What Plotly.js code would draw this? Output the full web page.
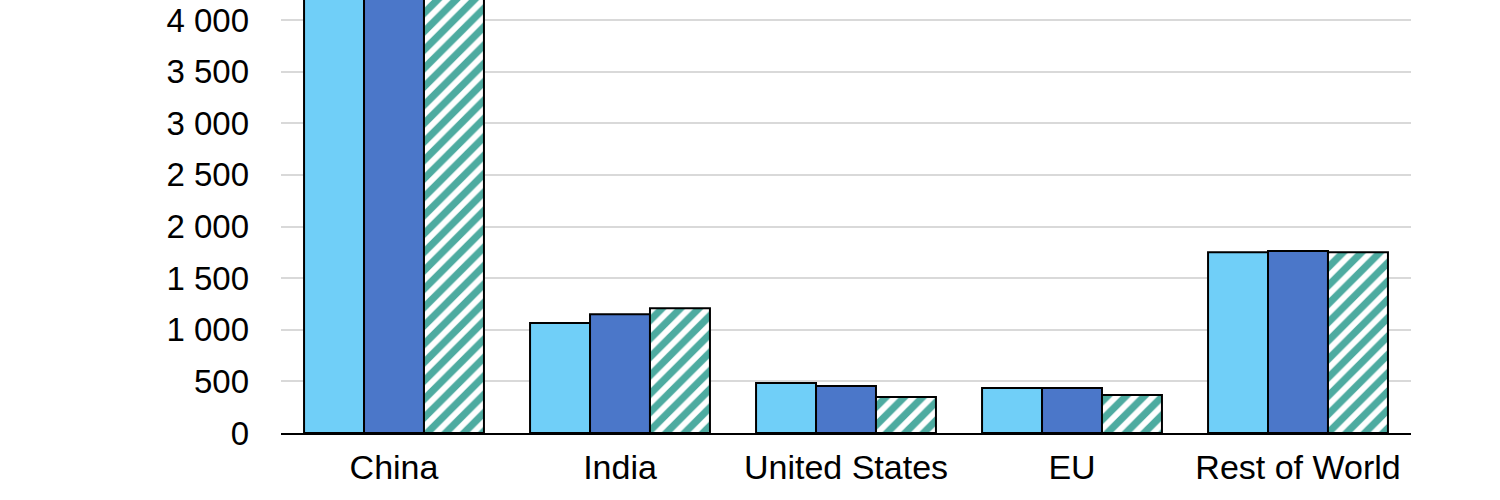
<!DOCTYPE html>
<html>
<head>
<meta charset="utf-8">
<script src="https://cdn.plot.ly/plotly-3.0.1.min.js"></script>
<style>html,body{margin:0;padding:0;background:#fff;}#chart{width:1500px;height:500px;}</style>
</head>
<body>
<div id="chart"></div>
<script>
const categories = ["China", "India", "United States", "EU", "Rest of World"];
const series1 = [4600, 1065, 485, 437, 1750];
const series2 = [4750, 1150, 455, 437, 1762];
const series3 = [4700, 1208, 348, 367, 1750];
const yTickVals = [0, 500, 1000, 1500, 2000, 2500, 3000, 3500, 4000];
const yTickText = ["0", "500", "1 000", "1 500", "2 000", "2 500", "3 000", "3 500", "4 000"];

const line = {color: "#000000", width: 2};
const traces = [
  {type: "bar", x: categories, y: series1, name: "Series 1",
   marker: {color: "#70CFF8", line: line}},
  {type: "bar", x: categories, y: series2, name: "Series 2",
   marker: {color: "#4B77C9", line: line}},
  {type: "bar", x: categories, y: series3, name: "Series 3",
   marker: {color: "#4DABA0", line: line,
            pattern: {shape: "/", fillmode: "replace", bgcolor: "#4DABA0", fgcolor: "#FFFFFF", size: 13, solidity: 0.45}}}
];

const layout = {
  width: 1500, height: 500,
  margin: {l: 281, r: 89, t: 0, b: 67, pad: 0},
  paper_bgcolor: "#FFFFFF", plot_bgcolor: "#FFFFFF",
  showlegend: false,
  barmode: "group", bargap: 0.204, bargroupgap: 0,
  font: {family: "Liberation Sans, Arial, sans-serif", color: "#000000", size: 33},
  xaxis: {
    showgrid: false, showline: true, linecolor: "#000000", linewidth: 2,
    ticks: "", tickfont: {size: 34}, ticklabelstandoff: 3, fixedrange: true
  },
  yaxis: {
    range: [0, 4194], tickvals: yTickVals, ticktext: yTickText,
    showgrid: true, gridcolor: "#D9D9D9", gridwidth: 2,
    zeroline: false, showline: false, ticks: "",
    tickfont: {size: 33}, ticklabelstandoff: 31, fixedrange: true
  }
};
Plotly.newPlot("chart", traces, layout, {displayModeBar: false, staticPlot: true});
</script>
</body>
</html>
